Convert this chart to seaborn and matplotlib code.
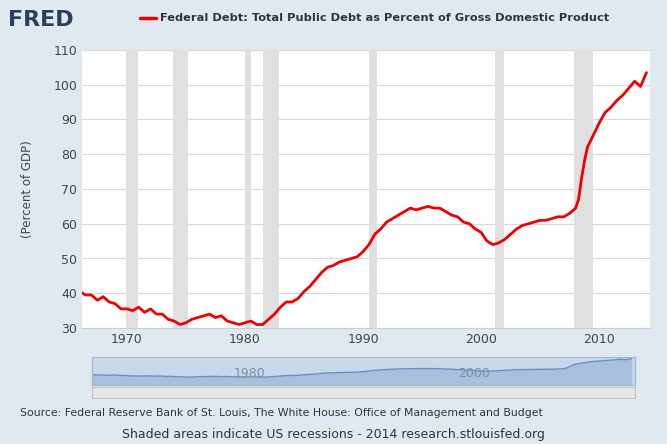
import matplotlib
matplotlib.use("Agg")
import matplotlib.pyplot as plt
import seaborn as sns
import pandas as pd

years = [1966, 1966.5, 1967, 1967.5, 1968, 1968.5, 1969, 1969.5, 1970, 1970.5, 1971, 1971.5,
         1972, 1972.5, 1973, 1973.5, 1974, 1974.5, 1975, 1975.5, 1976, 1976.5, 1977, 1977.5,
         1978, 1978.5, 1979, 1979.5, 1980, 1980.5, 1981, 1981.5, 1982, 1982.5, 1983, 1983.5,
         1984, 1984.5, 1985, 1985.5, 1986, 1986.5, 1987, 1987.5, 1988, 1988.5, 1989, 1989.5,
         1990, 1990.5, 1991, 1991.5, 1992, 1992.5, 1993, 1993.5, 1994, 1994.5, 1995, 1995.5,
         1996, 1996.5, 1997, 1997.5, 1998, 1998.5, 1999, 1999.5, 2000, 2000.5, 2001, 2001.5,
         2002, 2002.5, 2003, 2003.5, 2004, 2004.5, 2005, 2005.5, 2006, 2006.5, 2007, 2007.5,
         2008, 2008.25, 2008.5, 2008.75, 2009, 2009.5, 2010, 2010.5, 2011, 2011.5, 2012, 2012.5,
         2013, 2013.5, 2014]
debt = [40.5, 39.5, 39.5, 38, 39, 37.5, 37, 35.5, 35.5, 35, 36, 34.5,
        35.5, 34, 34, 32.5, 32, 31, 31.5, 32.5, 33, 33.5, 34, 33,
        33.5, 32, 31.5, 31, 31.5, 32, 31, 31, 32.5, 34, 36, 37.5,
        37.5, 38.5, 40.5, 42, 44, 46, 47.5, 48, 49, 49.5, 50, 50.5,
        52, 54, 57, 58.5, 60.5, 61.5, 62.5, 63.5, 64.5, 64, 64.5, 65,
        64.5, 64.5, 63.5, 62.5, 62, 60.5, 60, 58.5, 57.5, 55, 54, 54.5,
        55.5, 57, 58.5, 59.5, 60, 60.5, 61, 61, 61.5, 62, 62, 63,
        64.5, 67, 73, 78, 82, 85.5, 89, 92, 93.5, 95.5, 97, 99,
        101, 99.5, 103.5]
rec_start = [1969.9, 1973.9, 1980.0, 1981.5, 1990.5, 2001.2, 2007.9]
rec_end = [1970.9, 1975.2, 1980.5, 1982.9, 1991.2, 2001.9, 2009.5]

df = pd.DataFrame({"year": years, "debt": debt})
bg = "#e1e9f0"

sns.set_style("white")
fig = plt.figure(figsize=(6.67, 4.44), dpi=100, facecolor=bg)
ax = fig.add_axes([82/667, 1 - 328/444, 568/667, 278/444])
for s, e in zip(rec_start, rec_end):
    ax.axvspan(s, e, color="#e0e0e0", lw=0)
sns.lineplot(data=df, x="year", y="debt", color="#ee0000", lw=2, ax=ax)
ax.set_xlim(1966.2, 2014.3)
ax.set_ylim(30, 110)
ax.set_yticks(range(30, 111, 10))
ax.set_xticks([1970, 1980, 1990, 2000, 2010])
ax.grid(axis="y", color="#d8d8d8", lw=0.8)
ax.set_xlabel("")
ax.set_ylabel("(Percent of GDP)", color="#444444", fontsize=8.5, labelpad=14)
ax.tick_params(labelsize=9, colors="#444444", length=0)
for sp in ax.spines.values():
    sp.set_visible(False)
ax.spines["bottom"].set_visible(True)
ax.spines["bottom"].set_color("#c0d0e0")

# navigator
nav = fig.add_axes([92/667, 1 - 385/444, 543/667, 28/444])
nav.set_facecolor("#c8d8ea")
nav.fill_between(years, debt, 0, color="#a8c0dc", lw=0)
nav.plot(years, debt, color="#6a8fbf", lw=1)
nav.set_xlim(1966, 2014.3)
nav.set_ylim(0, 110)
nav.set_xticks([])
nav.set_yticks([])
for sp in nav.spines.values():
    sp.set_color("#a0b4cc")
nav.text(1980, 20, "1980", ha="center", va="bottom", fontsize=9, color="#7f8ea0")
nav.text(2000, 20, "2000", ha="center", va="bottom", fontsize=9, color="#7f8ea0")
sb = fig.add_axes([92/667, 1 - 398/444, 543/667, 11/444])
sb.set_facecolor("#e6e6e6")
sb.set_xticks([])
sb.set_yticks([])
for sp in sb.spines.values():
    sp.set_color("#c0c0c0")

# header
fig.text(8/667, 1 - 20/444, "FRED", fontsize=16, fontweight="bold", color="#2a3f5f", va="center")
fig.lines.append(plt.Line2D([140/667, 156/667], [1 - 18/444] * 2, color="#ee0000", lw=2.5,
                            transform=fig.transFigure))
fig.text(160/667, 1 - 18/444, "Federal Debt: Total Public Debt as Percent of Gross Domestic Product",
         fontsize=8.2, fontweight="bold", color="#333333", va="center")
fig.text(20/667, 1 - 413/444,
         "Source: Federal Reserve Bank of St. Louis, The White House: Office of Management and Budget",
         fontsize=7.8, color="#333333", va="center")
fig.text(0.5, 1 - 434/444, "Shaded areas indicate US recessions - 2014 research.stlouisfed.org",
         fontsize=9, color="#333333", va="center", ha="center")

fig.savefig("out.png", dpi=100, facecolor=bg)
